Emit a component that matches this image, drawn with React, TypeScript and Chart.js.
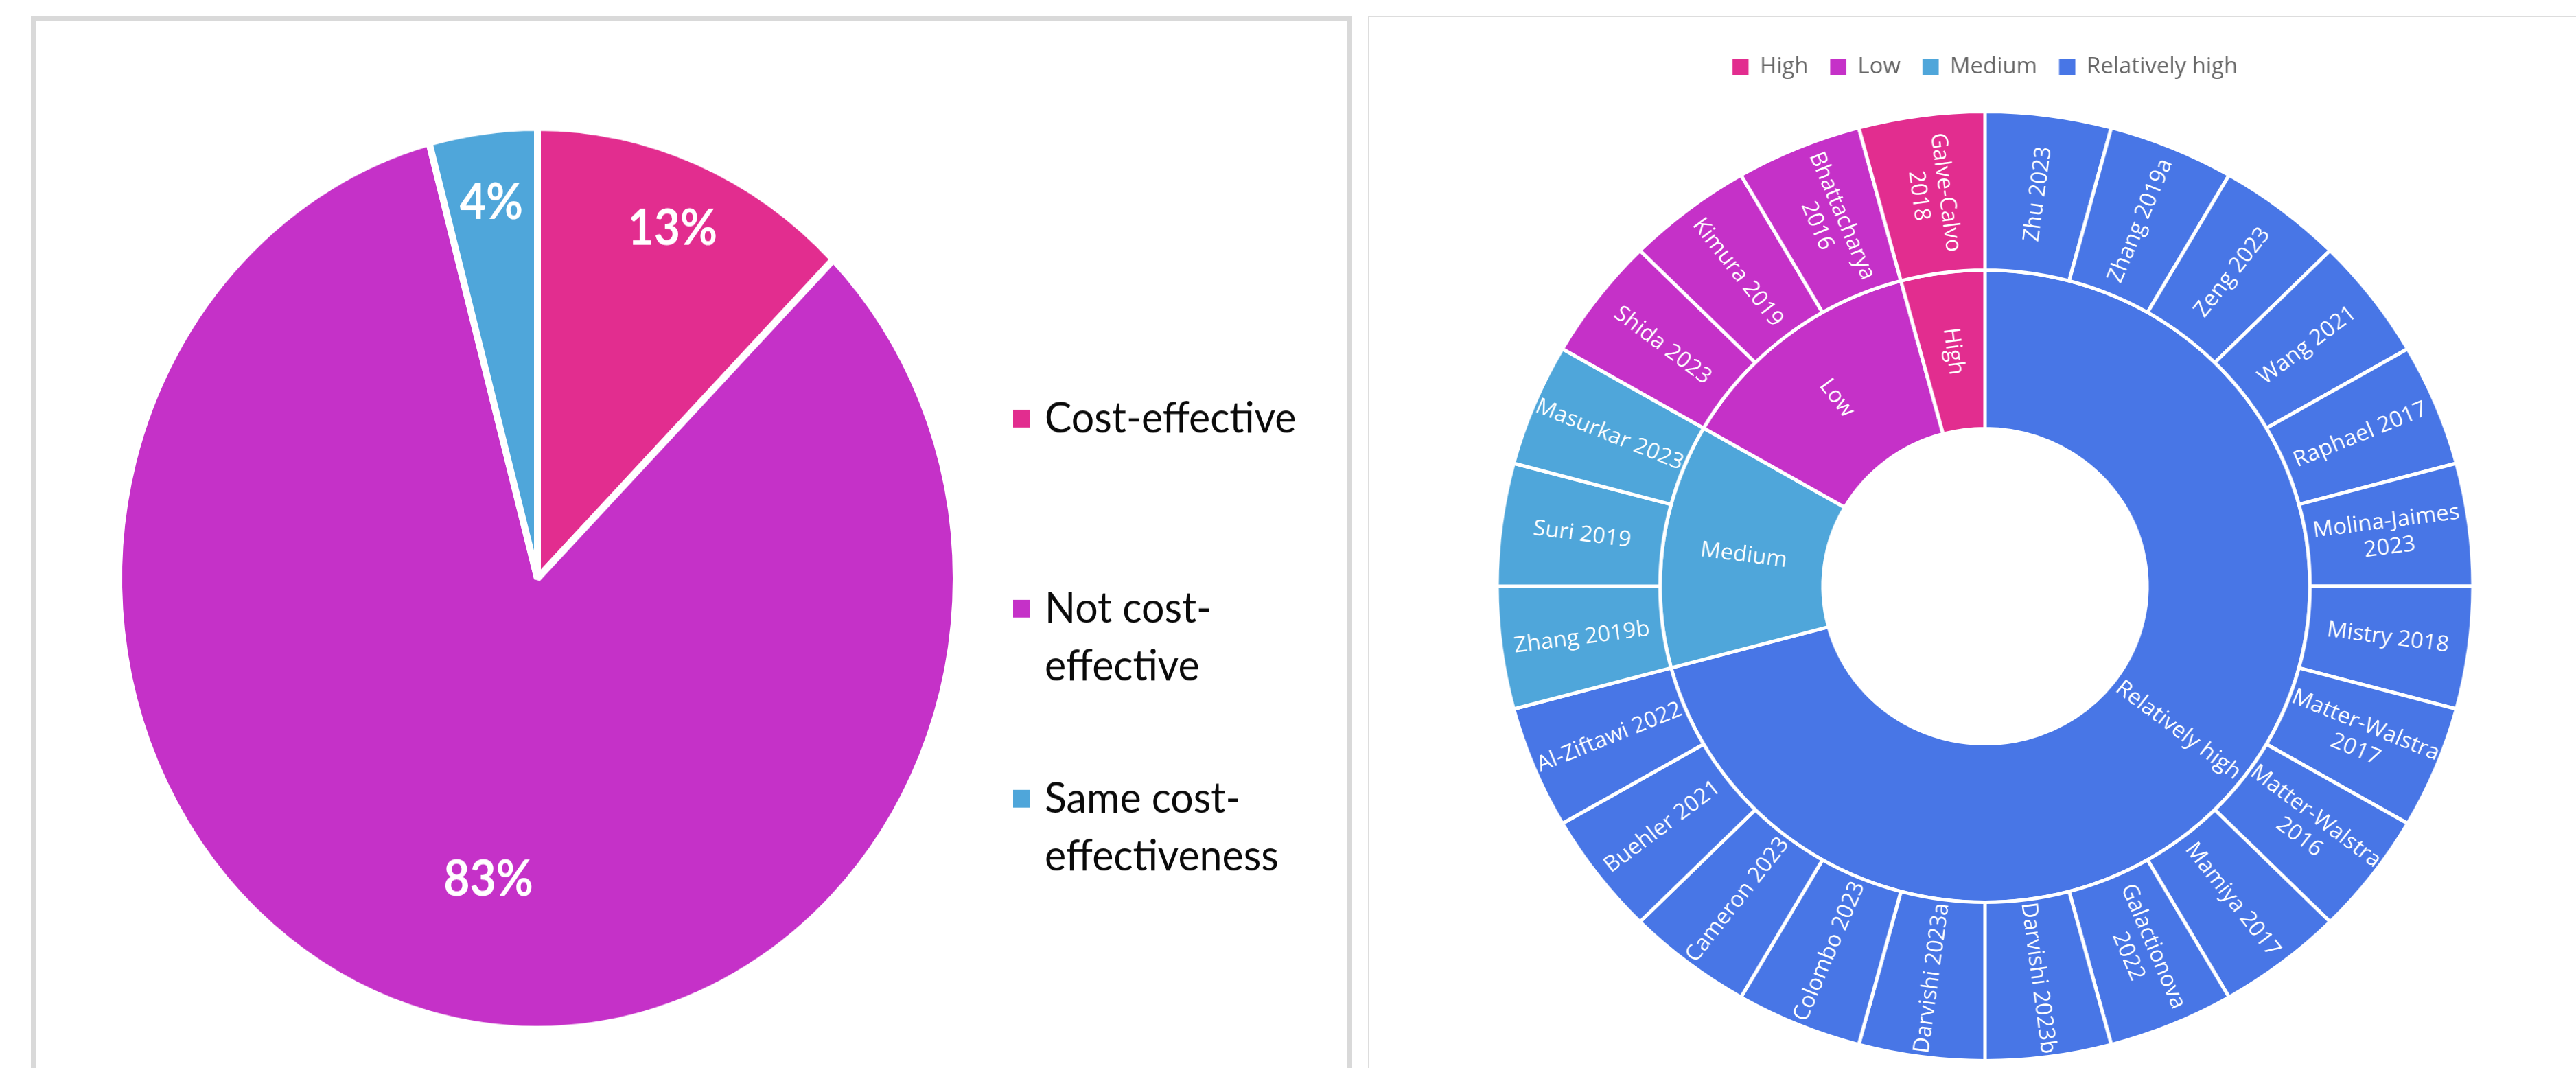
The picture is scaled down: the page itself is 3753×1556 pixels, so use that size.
import React, { useEffect, useRef } from 'react';
import { Chart, registerables } from 'chart.js';

Chart.register(...registerables);

// ---------- Left pie: cost-effectiveness ----------
const pieLabels = ['Cost-effective', 'Not cost-\neffective', 'Same cost-\neffectiveness'];
const pieCounts = [3, 20, 1];
const pieColors = ['#E22D8F', '#C531C8', '#4FA6DA'];

// ---------- Right sunburst: risk of bias ----------
const groupLabels = ['Relatively high', 'Medium', 'Low', 'High'];
const groupCounts = [17, 3, 3, 1];
const groupColors = ['#4876E6', '#4FA6DA', '#C531C8', '#E22D8F'];

const studyLabels = [
  'Zhu 2023', 'Zhang 2019a', 'Zeng 2023', 'Wang 2021', 'Raphael 2017',
  'Molina-Jaimes\n2023', 'Mistry 2018', 'Matter-Walstra\n2017', 'Matter-Walstra\n2016',
  'Mamiya 2017', 'Galactionova\n2022', 'Darvishi 2023b', 'Darvishi 2023a',
  'Colombo 2023', 'Cameron 2023', 'Buehler 2021', 'Al-Ziftawi 2022',
  'Zhang 2019b', 'Suri 2019', 'Masurkar 2023',
  'Shida 2023', 'Kimura 2019', 'Bhattacharya\n2016',
  'Galve-Calvo\n2018',
];
const studyGroup = [
  0, 0, 0, 0, 0, 0, 0, 0, 0, 0, 0, 0, 0, 0, 0, 0, 0,
  1, 1, 1,
  2, 2, 2,
  3,
];
const studyValues = [
  1, 1, 1, 1, 1, 1, 1, 1, 1, 1, 1, 1, 1, 1, 1, 1, 1,
  1, 1, 1,
  1, 1, 1,
  1,
];

const pieLabelPlugin = {
  id: 'pieLabels',
  afterDatasetsDraw(chart: any) {
    const ctx = chart.ctx;
    const meta = chart.getDatasetMeta(0);
    const data = chart.data.datasets[0].data as number[];
    const total = data.reduce((a, b) => a + b, 0);
    ctx.save();
    ctx.fillStyle = '#ffffff';
    ctx.font = 'bold 66px Lato';
    ctx.textAlign = 'center';
    ctx.textBaseline = 'alphabetic';
    meta.data.forEach((arc: any, i: number) => {
      const p = arc.getProps(['startAngle', 'endAngle', 'outerRadius', 'x', 'y'], true);
      const share = data[i] / total;
      const big = share > 0.5;
      const a = (p.startAngle + p.endAngle) / 2 - (big ? (5 * Math.PI) / 180 : 0);
      const r = (p.outerRadius - 5) * (big ? 0.68 : 0.85);
      const x = p.x + Math.cos(a) * r;
      const y = p.y + Math.sin(a) * r;
      ctx.fillText(Math.round(share * 100) + '%', x, y + 24);
    });
    ctx.restore();
  },
};

const pieLegendPlugin = {
  id: 'pieLegend',
  afterDraw(chart: any) {
    const ctx = chart.ctx;
    const x0 = 1476;
    const firstCenter = 566;
    const step = 257;
    const box = 24;
    const lineH = 78;
    ctx.save();
    ctx.font = '59px Lato';
    ctx.textAlign = 'left';
    ctx.textBaseline = 'alphabetic';
    pieLabels.forEach((lab, i) => {
      const cy = firstCenter + i * step;
      ctx.fillStyle = pieColors[i];
      ctx.fillRect(x0, cy - box / 2, box, box);
      ctx.fillStyle = '#0a0a0a';
      lab.split('\n').forEach((ln, k) => {
        ctx.fillText(ln, x0 + 46, cy + 19 + k * lineH);
      });
    });
    ctx.restore();
  },
};

const ringLabelPlugin = {
  id: 'ringLabels',
  afterDatasetsDraw(chart: any) {
    const ctx = chart.ctx;
    ctx.save();
    ctx.fillStyle = '#ffffff';
    ctx.font = '32px "Open Sans"';
    ctx.textAlign = 'center';
    ctx.textBaseline = 'middle';
    chart.data.datasets.forEach((ds: any, di: number) => {
      const meta = chart.getDatasetMeta(di);
      meta.data.forEach((arc: any, i: number) => {
        const p = arc.getProps(['startAngle', 'endAngle', 'innerRadius', 'outerRadius', 'x', 'y'], true);
        const a = (p.startAngle + p.endAngle) / 2;
        const r = (p.innerRadius + p.outerRadius) / 2;
        const px = p.x + Math.cos(a) * r;
        const py = p.y + Math.sin(a) * r;
        const rot = Math.cos(a) < 0 ? a + Math.PI : a;
        const lines = String(ds.ringLabels[i]).split('\n');
        ctx.save();
        ctx.translate(px, py);
        ctx.rotate(rot);
        lines.forEach((ln: string, k: number) => {
          ctx.fillText(ln, 0, (k - (lines.length - 1) / 2) * 38);
        });
        ctx.restore();
      });
    });
    ctx.restore();
  },
};

export default function App() {
  const leftRef = useRef<HTMLCanvasElement>(null);
  const rightRef = useRef<HTMLCanvasElement>(null);

  useEffect(() => {
    const pie = new Chart(leftRef.current as HTMLCanvasElement, {
      type: 'pie',
      data: {
        labels: pieLabels,
        datasets: [
          {
            data: pieCounts,
            backgroundColor: pieColors,
            borderColor: '#ffffff',
            borderWidth: 10,
            radius: 610,
          } as any,
        ],
      },
      options: {
        responsive: false,
        animation: false,
        devicePixelRatio: 1,
        events: [],
        layout: { padding: { left: 0, right: 414, top: 120, bottom: 0 } },
        plugins: { legend: { display: false }, tooltip: { enabled: false } },
      } as any,
      plugins: [pieLabelPlugin, pieLegendPlugin],
    });

    const studyColors = studyGroup.map((g) => groupColors[g]);
    const sun = new Chart(rightRef.current as HTMLCanvasElement, {
      type: 'doughnut',
      data: {
        labels: studyLabels,
        datasets: [
          {
            data: studyValues,
            backgroundColor: studyColors,
            borderColor: '#ffffff',
            borderWidth: 5,
            ringLabels: studyLabels,
          } as any,
          {
            data: groupCounts,
            backgroundColor: groupColors,
            borderColor: '#ffffff',
            borderWidth: 5,
            ringLabels: groupLabels,
          } as any,
        ],
      },
      options: {
        responsive: false,
        animation: false,
        devicePixelRatio: 1,
        events: [],
        radius: 691.5,
        cutout: '33.2%',
        layout: { padding: { left: 34, right: 0, top: 25.5, bottom: 40.5 } },
        plugins: {
          tooltip: { enabled: false },
          legend: {
            display: true,
            position: 'top',
            labels: {
              color: '#666666',
              font: { family: '"Open Sans"', size: 32 },
              boxWidth: 23,
              boxHeight: 23,
              padding: 31,
              generateLabels: () =>
                groupLabels
                  .map((t, i) => ({
                    text: t,
                    fillStyle: groupColors[i],
                    strokeStyle: groupColors[i],
                    lineWidth: 0,
                    hidden: false,
                    index: i,
                    fontColor: '#666666',
                  }))
                  .reverse(),
            },
          },
        },
      } as any,
      plugins: [ringLabelPlugin],
    });

    return () => {
      pie.destroy();
      sun.destroy();
    };
  }, []);

  return (
    <div
      style={{
        position: 'absolute',
        left: 0,
        top: 0,
        width: 3753,
        height: 1556,
        overflow: 'hidden',
        background: '#ffffff',
      }}
    >
      <div
        style={{
          position: 'absolute',
          left: 45,
          top: 23,
          width: 1909,
          height: 1650,
          border: '8px solid #d9d9d9',
        }}
      />
      <div
        style={{
          position: 'absolute',
          left: 1993,
          top: 23,
          width: 1800,
          height: 1650,
          borderLeft: '2px solid #dddddd',
          borderTop: '2px solid #dddddd',
        }}
      />
      <canvas
        ref={leftRef}
        width={1980}
        height={1444}
        style={{ position: 'absolute', left: 0, top: 0, width: 1980, height: 1556 }}
      />
      <canvas
        ref={rightRef}
        width={1709}
        height={1600}
        style={{ position: 'absolute', left: 1996, top: 25, width: 1757, height: 1600 }}
      />
    </div>
  );
}
